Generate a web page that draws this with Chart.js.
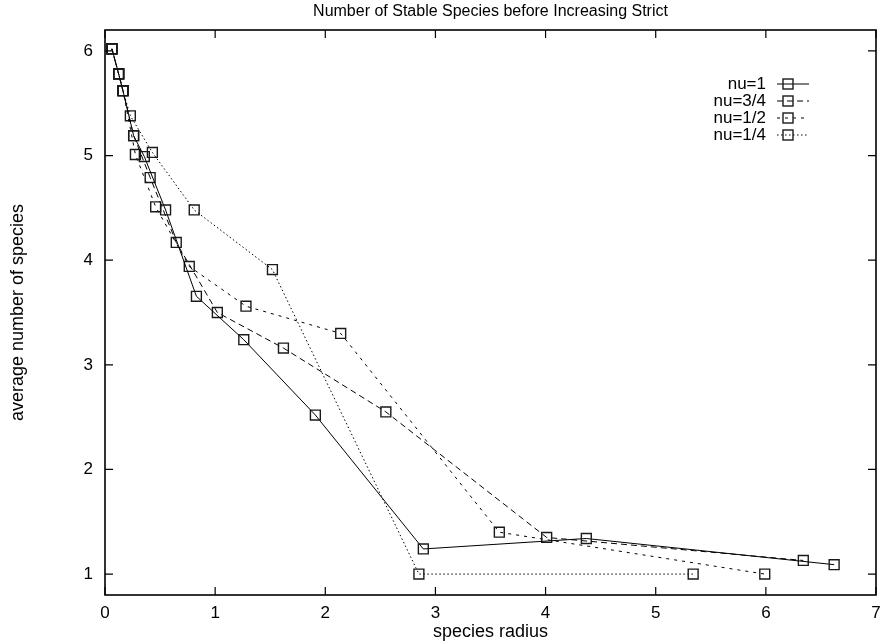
<!DOCTYPE html>
<html><head><meta charset="utf-8">
<script src="https://cdn.jsdelivr.net/npm/chart.js@4.4.1/dist/chart.umd.min.js"></script>
<style>html,body{margin:0;padding:0;background:#fff;}</style>
</head><body>
<canvas id="c" width="881" height="644"></canvas>
<script>
const chartTitle = 'Number of Stable Species before Increasing Strict';
const xAxisLabel = 'species radius';
const yAxisLabel = 'average number of species';
const xTicks = [0, 1, 2, 3, 4, 5, 6, 7];
const yTicks = [1, 2, 3, 4, 5, 6];
const seriesNames = ['nu=1', 'nu=3/4', 'nu=1/2', 'nu=1/4'];

const nu1X = [0.063, 0.124, 0.163, 0.26, 0.357, 0.55, 0.83, 1.26, 1.91, 2.89, 4.37, 6.62];
const nu1Y = [6.02, 5.78, 5.62, 5.19, 4.99, 4.48, 3.655, 3.24, 2.52, 1.24, 1.34, 1.09];
const nu34X = [0.063, 0.124, 0.163, 0.26, 0.41, 0.647, 1.02, 1.62, 2.55, 4.01, 6.34];
const nu34Y = [6.02, 5.78, 5.62, 5.19, 4.79, 4.17, 3.50, 3.16, 2.55, 1.35, 1.13];
const nu12X = [0.063, 0.124, 0.163, 0.276, 0.46, 0.765, 1.28, 2.14, 3.58, 5.99];
const nu12Y = [6.02, 5.78, 5.62, 5.01, 4.51, 3.94, 3.56, 3.30, 1.40, 1.00];
const nu14X = [0.063, 0.124, 0.163, 0.23, 0.43, 0.81, 1.52, 2.85, 5.34];
const nu14Y = [6.02, 5.78, 5.62, 5.38, 5.03, 4.48, 3.91, 1.00, 1.00];

const xs = [nu1X, nu34X, nu12X, nu14X];
const ys = [nu1Y, nu34Y, nu12Y, nu14Y];
const dashes = [[], [6, 4], [3, 5], [1.5, 2.5]];
const FONT = '"Liberation Sans", Arial, Helvetica, sans-serif';

const datasets = seriesNames.map((name, i) => ({
  label: name,
  data: xs[i].map((x, j) => ({ x: x, y: ys[i][j] })),
  showLine: true,
  borderColor: '#000',
  borderWidth: 1,
  borderDash: dashes[i],
  pointStyle: 'rect',
  pointRadius: 7,
  pointBorderWidth: 1.4,
  pointBorderColor: '#1a1a1a',
  pointBackgroundColor: 'rgba(0,0,0,0)',
  fill: false,
  tension: 0
}));

const frame = {
  id: 'gpFrame',
  afterDraw(chart) {
    const ctx = chart.ctx;
    const { left, right, top, bottom } = chart.chartArea;
    const sx = chart.scales.x, sy = chart.scales.y;
    ctx.save();
    ctx.strokeStyle = '#000';
    ctx.lineWidth = 1.2;
    ctx.beginPath();
    xTicks.forEach(v => {
      const px = sx.getPixelForValue(v);
      ctx.moveTo(px, bottom); ctx.lineTo(px, bottom - 8);
      ctx.moveTo(px, top); ctx.lineTo(px, top + 8);
    });
    yTicks.forEach(v => {
      const py = sy.getPixelForValue(v);
      ctx.moveTo(left, py); ctx.lineTo(left + 8, py);
      ctx.moveTo(right, py); ctx.lineTo(right - 8, py);
    });
    ctx.stroke();
    ctx.lineWidth = 1.6;
    ctx.strokeRect(left, top, right - left, bottom - top);
    // legend
    const tx = right - 110, sx0 = right - 99, sx1 = right - 67, mx = right - 88;
    chart.data.datasets.forEach((ds, i) => {
      const y = top + 54 + i * 17;
      ctx.font = '17px ' + FONT;
      ctx.fillStyle = '#000';
      ctx.textAlign = 'right';
      ctx.textBaseline = 'middle';
      ctx.fillText(ds.label, tx, y);
      ctx.strokeStyle = '#000';
      ctx.lineWidth = 1;
      ctx.setLineDash(ds.borderDash);
      ctx.beginPath(); ctx.moveTo(sx0, y); ctx.lineTo(sx1, y); ctx.stroke();
      ctx.setLineDash([]);
      ctx.strokeStyle = '#1a1a1a';
      ctx.lineWidth = 1.4;
      ctx.strokeRect(mx - 5, y - 5, 10, 10);
    });
    ctx.restore();
  }
};

new Chart(document.getElementById('c'), {
  type: 'scatter',
  data: { datasets: datasets },
  plugins: [frame],
  options: {
    responsive: false,
    animation: false,
    layout: { autoPadding: false, padding: { left: 0, right: 5, top: 0, bottom: 0 } },
    plugins: {
      legend: { display: false },
      tooltip: { enabled: false },
      title: {
        display: true, text: chartTitle, fullSize: false, color: '#000',
        font: { family: FONT, size: 16, weight: 'normal' },
        padding: { top: 2.4, bottom: 8.4 }
      }
    },
    scales: {
      x: {
        type: 'linear', min: 0, max: 7,
        afterBuildTicks: s => { s.ticks = xTicks.map(v => ({ value: v })); },
        afterFit: s => { s.height = 49; s.paddingRight = 0; s.paddingLeft = 0; },
        grid: { display: false, drawTicks: true, tickLength: 8 }, border: { display: false },
        ticks: { color: '#000', font: { family: FONT, size: 17 }, padding: 0, maxRotation: 0 },
        title: { display: true, text: xAxisLabel, color: '#000', font: { family: FONT, size: 18 }, padding: { top: 0, bottom: 1 } }
      },
      y: {
        type: 'linear', min: 0.8, max: 6.2,
        afterBuildTicks: s => { s.ticks = yTicks.map(v => ({ value: v })); },
        afterFit: s => { s.width = 105; },
        grid: { display: false, drawTicks: false }, border: { display: false },
        ticks: { color: '#000', font: { family: FONT, size: 17 }, padding: 12 },
        title: { display: true, text: yAxisLabel, color: '#000', font: { family: FONT, size: 18 }, padding: { top: 7, bottom: 0 } }
      }
    }
  }
});
</script>
</body></html>
